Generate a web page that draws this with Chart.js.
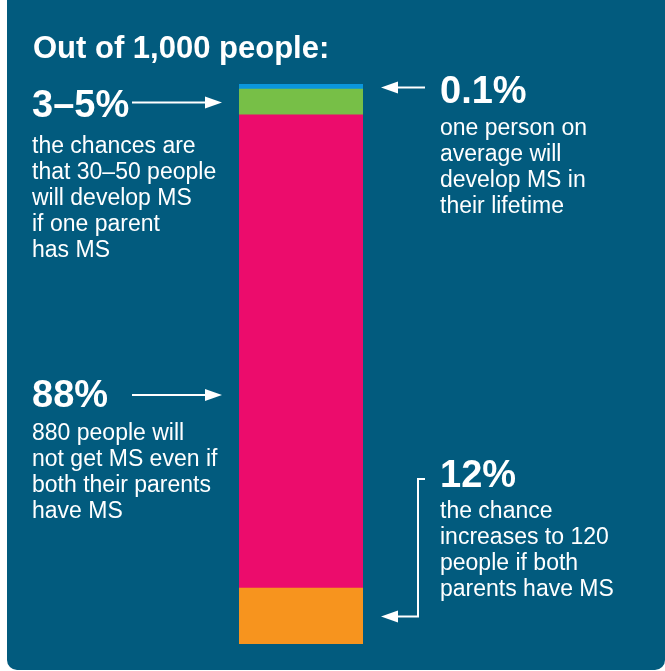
<!DOCTYPE html>
<html>
<head>
<meta charset="utf-8">
<script src="https://cdn.jsdelivr.net/npm/chart.js@4"></script>
<style>
  html, body { margin:0; padding:0; background:#fff; }
  #wrap { position:relative; width:665px; height:671px; overflow:hidden; font-family:"Liberation Sans", Arial, sans-serif; color:#fff; }
  #panel { position:absolute; left:7px; top:0; width:658px; height:670px; background:#025b7e; border-radius:0 0 10px 10px; }
  #c { position:absolute; left:0; top:0; }
  .t { position:absolute; white-space:nowrap; }
  .big { font-weight:bold; font-size:38px; line-height:38px; }
  .body { font-size:23px; line-height:26px; }
</style>
</head>
<body>
<div id="wrap">
  <div id="panel"></div>
  <canvas id="c" width="665" height="671"></canvas>
  <div class="t" style="left:33px;top:32px;font-weight:bold;font-size:31px;line-height:31px">Out of 1,000 people:</div>

  <div class="t big" style="left:32px;top:85px">3–5%</div>
  <div class="t body" style="left:32px;top:132px">the chances are<br>that 30–50 people<br>will develop MS<br>if one parent<br>has MS</div>

  <div class="t big" style="left:440px;top:71px">0.1%</div>
  <div class="t body" style="left:440px;top:114px">one person on<br>average will<br>develop MS in<br>their lifetime</div>

  <div class="t big" style="left:32px;top:375px">88%</div>
  <div class="t body" style="left:32px;top:419px">880 people will<br>not get MS even if<br>both their parents<br>have MS</div>

  <div class="t big" style="left:440px;top:455px">12%</div>
  <div class="t body" style="left:440px;top:497px">the chance<br>increases to 120<br>people if both<br>parents have MS</div>
</div>
<script>
// people out of 1,000, bottom to top of the bar (as drawn)
const groups = ["12%", "88%", "3–5%", "0.1%"];
const people = [100, 845, 46, 9];
const colors = ["#f7941e", "#ec0c6c", "#77bf47", "#0a96dc"];

function arrow(ctx, x1, y, x2) {
  // straight line ending in a filled head at x2
  let dir = x2 > x1 ? 1 : -1;
  ctx.beginPath();
  ctx.moveTo(x1, y);
  ctx.lineTo(x2 - dir * 14, y);
  ctx.stroke();
  ctx.beginPath();
  ctx.moveTo(x2, y);
  ctx.lineTo(x2 - dir * 17, y - 6);
  ctx.lineTo(x2 - dir * 17, y + 6);
  ctx.closePath();
  ctx.fill();
}

const arrows = {
  id: "arrows",
  afterDraw(chart) {
    const ctx = chart.ctx, ys = chart.scales.y;
    const mid = i => {
      let base = 0;
      for (let k = 0; k < i; k++) base += people[k];
      return Math.round(ys.getPixelForValue(base + people[i] / 2)) + 0.5;
    };
    ctx.save();
    ctx.strokeStyle = "#fff";
    ctx.fillStyle = "#fff";
    ctx.lineWidth = 2;
    arrow(ctx, 132, mid(2), 222);   // 3-5%
    arrow(ctx, 425, mid(3), 381);   // 0.1%
    arrow(ctx, 132, 395, 222);      // 88%
    // 12% bracket
    let yo = mid(0);
    ctx.beginPath();
    ctx.moveTo(425, 479);
    ctx.lineTo(418, 479);
    ctx.lineTo(418, yo);
    ctx.stroke();
    arrow(ctx, 419, yo, 381);
    ctx.restore();
  }
};

new Chart(document.getElementById("c"), {
  type: "bar",
  data: {
    labels: ["Out of 1,000 people"],
    datasets: groups.map((g, i) => ({
      label: g,
      data: [people[i]],
      backgroundColor: colors[i],
      borderWidth: 0,
      barPercentage: 1,
      categoryPercentage: 1
    }))
  },
  options: {
    responsive: false,
    animation: false,
    layout: { padding: { left: 239, right: 302, top: 84, bottom: 27 } },
    plugins: { legend: { display: false }, tooltip: { enabled: false } },
    scales: {
      x: { stacked: true, display: false },
      y: { stacked: true, display: false, min: 0, max: 1000 }
    }
  },
  plugins: [arrows]
});
</script>
</body>
</html>
